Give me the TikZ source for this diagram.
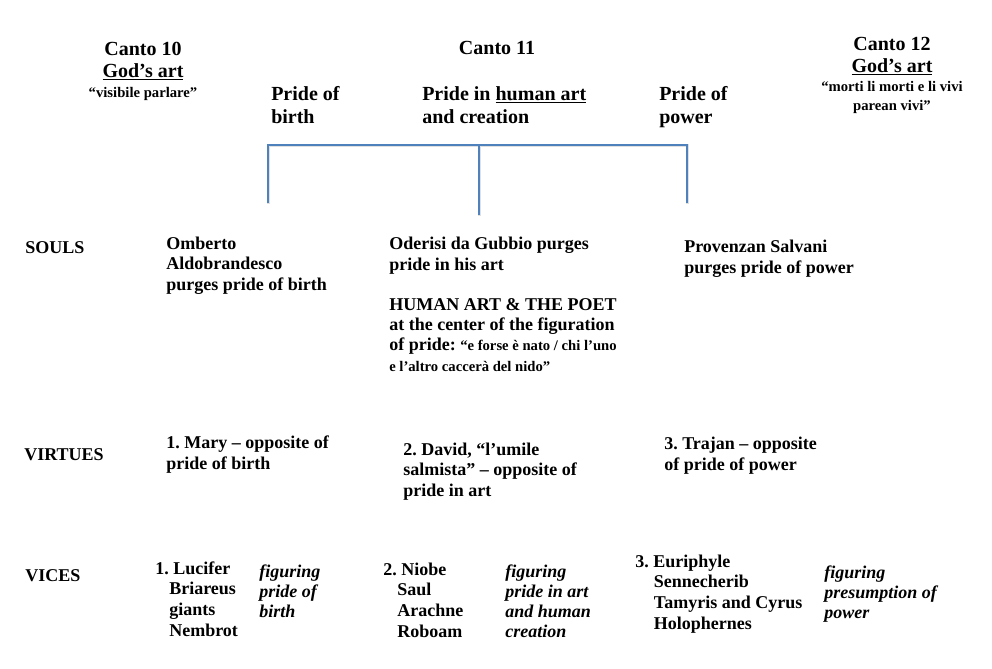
\documentclass[tikz,border=0pt]{standalone}
\usepackage{fontspec}
\setmainfont{Liberation Serif}
\frenchspacing
\definecolor{bracketblue}{RGB}{79,129,189}
\newcommand{\quotesize}{\fontsize{11}{13.5}\selectfont}
\newcommand{\viceindent}{\hspace*{10.5pt}}
\tikzset{
  every node/.style={inner sep=0pt, anchor=base west, align=left},
  canto/.style={font=\bfseries\fontsize{15}{16.5}\selectfont, align=center, anchor=base},
  pride/.style={font=\bfseries\fontsize{15}{16.9}\selectfont},
  rowhead/.style={font=\bfseries\fontsize{13.5}{15.2}\selectfont},
  body/.style={font=\bfseries\fontsize{13.5}{15.2}\selectfont},
  vicelist/.style={font=\bfseries\fontsize{13.5}{15.4}\selectfont},
  gloss/.style={font=\bfseries\itshape\fontsize{13.5}{14.8}\selectfont},
  bracket/.style={draw=bracketblue, line width=2.2pt},
  bracketshade/.style={draw=black!30, line width=2.2pt, opacity=.4,
    transform canvas={shift={(.6pt,-.7pt)}}},
}
\begin{document}
\begin{tikzpicture}[x=0.75pt,y=-0.75pt]
	\useasboundingbox (0,0) rectangle (992,668);
	% cantos (multi-line nodes sit on their last line)
	\node[canto] (canto10) at (143,97) {Canto 10\\\underline{God’s art}\\[-2pt]{\quotesize “visibile parlare”}};
	\node[canto] (canto11) at (497,54) {Canto 11};
	\node[canto] (canto12) at (892,110) {Canto 12\\\underline{God’s art}\\[-2.5pt]{\quotesize “morti li morti e li vivi}\\[-2.5pt]{\quotesize parean vivi”}};
	%
	\node[pride] (birth) at (271,123) {Pride of\\birth};
	\node[pride] (humanart) at (422,123) {Pride in \underline{human art}\\and creation};
	\node[pride] (power) at (659,123) {Pride of\\power};
	%
	\coordinate (brL) at (268,145);
	\coordinate (brM) at (479,145);
	\coordinate (brR) at (687,145);
	\coordinate (brLend) at (268,203);
	\coordinate (brMend) at (479,215);
	\coordinate (brRend) at (687,203);
	\draw[bracketshade] (brLend) -- (brL) -- (brR) -- (brRend) (brM) -- (brMend);
	\draw[bracket] (brLend) -- (brL) -- (brR) -- (brRend) (brM) -- (brMend);
	% souls
	\node[rowhead] (souls) at (25,253) {SOULS};
	\node[body] (omberto) at (166,290) {Omberto\\Aldobrandesco\\purges pride of birth};
	\node[body] (oderisi) at (389,270) {Oderisi da Gubbio purges\\pride in his art};
	\node[body] (poet) at (389,371) {HUMAN ART \& THE POET\\at the center of the figuration\\of pride: {\quotesize “e forse è nato / chi l’uno}\\{\quotesize e l’altro caccerà del nido”}};
	\node[body] (provenzan) at (684,273) {Provenzan Salvani\\purges pride of power};
	% virtues
	\node[rowhead] (virtues) at (24,460) {VIRTUES};
	\node[body] (mary) at (166,469) {1. Mary – opposite of\\pride of birth};
	\node[body] (david) at (403,496) {2. David, “l’umile\\salmista” – opposite of\\pride in art};
	\node[body] (trajan) at (664,470) {3. Trajan – opposite\\of pride of power};
	% vices
	\node[rowhead] (vices) at (25,581) {VICES};
	\node[vicelist] (lucifer) at (155,636) {1. Lucifer\\\viceindent Briareus\\\viceindent giants\\\viceindent Nembrot};
	\node[gloss] (gloss1) at (259,617) {figuring\\pride of\\birth};
	\node[vicelist] (niobe) at (383,637) {2. Niobe\\\viceindent Saul\\\viceindent Arachne\\\viceindent Roboam};
	\node[gloss] (gloss2) at (505,637) {figuring\\pride in art\\and human\\creation};
	\node[vicelist] (euriphyle) at (635,629) {3. Euriphyle\\\hspace*{14pt}Sennecherib\\\hspace*{14pt}Tamyris and Cyrus\\\hspace*{14pt}Holophernes};
	\node[gloss] (gloss3) at (824,618) {figuring\\presumption of\\power};
\end{tikzpicture}
\end{document}
